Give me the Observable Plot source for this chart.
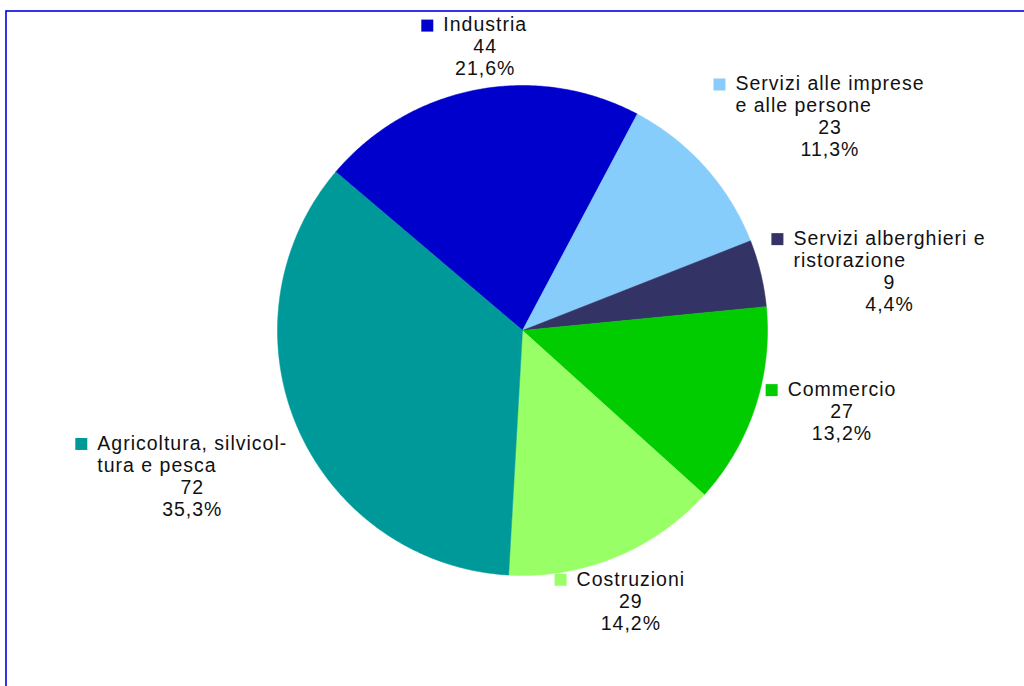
<!DOCTYPE html>
<html><head><meta charset="utf-8">
<script src="https://cdn.jsdelivr.net/npm/d3@7"></script>
<script src="https://cdn.jsdelivr.net/npm/@observablehq/plot@0.6"></script>
<style>html,body{margin:0;padding:0;background:#fff;} svg{display:block}</style>
</head><body><div id="chart"></div>
<script>
// ---- data ----
const categories = ["Industria", "Servizi alle imprese e alle persone", "Servizi alberghieri e ristorazione", "Commercio", "Costruzioni", "Agricoltura, silvicoltura e pesca"];
const labelLines = [["Industria"], ["Servizi alle imprese", "e alle persone"], ["Servizi alberghieri e", "ristorazione"], ["Commercio"], ["Costruzioni"], ["Agricoltura, silvicol-", "tura e pesca"]];
const values = [44, 23, 9, 27, 29, 72];
const palette = ["#0000cc", "#87cdfb", "#333366", "#00cc00", "#99ff66", "#009999"];

// ---- layout ----
const W = 1024, H = 686, cx = 522, cy = 330, R = 245;
const startDeg = -49.7;
const total = d3.sum(values);
const a0 = startDeg * Math.PI / 180;
const arcs = d3.pie().value(d => d).sort(null).startAngle(a0).endAngle(a0 + 2 * Math.PI)(values);

const slicePts = [];
arcs.forEach((a, i) => {
  slicePts.push({cat: categories[i], x: 0, y: 0});
  const n = Math.max(2, Math.ceil((a.endAngle - a.startAngle) / (Math.PI / 360)));
  for (let k = 0; k <= n; k++) {
    const t = a.startAngle + (a.endAngle - a.startAngle) * k / n;
    slicePts.push({cat: categories[i], x: Math.sin(t), y: -Math.cos(t)});
  }
});

const FS = 19.5, LS = 1.0, LH = 22, GAP = 22, SQ = 12, OFF = 11;
const ctx = document.createElement("canvas").getContext("2d");
ctx.font = FS + "px 'Liberation Sans'";
const tw = s => ctx.measureText(s).width + LS * s.length;
const ux = px => (px - cx) / R, uy = py => (py - cy) / R;

const nameRows = [], numRows = [], squares = [];
arcs.forEach((a, i) => {
  const mid = (a.startAngle + a.endAngle) / 2;
  const dx = Math.sin(mid), dy = -Math.cos(mid);
  const px = cx + (R + OFF) * dx, py = cy + (R + OFF) * dy;
  let deg = (90 - mid * 180 / Math.PI) % 360; if (deg < 0) deg += 360;
  let h, v;
  if (deg <= 22.5 || deg >= 337.5) { h = 1; v = 0; }
  else if (deg < 67.5) { h = 1; v = 1; }
  else if (deg < 112.5) { h = 0; v = 1; }
  else if (deg <= 157.5) { h = -1; v = 1; }
  else if (deg <= 202.5) { h = -1; v = 0; }
  else if (deg < 247.5) { h = -1; v = -1; }
  else if (deg < 292.5) { h = 0; v = -1; }
  else { h = 1; v = -1; }
  const names = labelLines[i];
  const pct = (values[i] / total * 100).toFixed(1).replace(".", ",") + "%";
  const nums = [String(values[i]), pct];
  const lines = [...names, ...nums];
  const textW = d3.max(lines, tw);
  const bw = GAP + textW, bh = lines.length * LH;
  const left = h === 1 ? px : h === -1 ? px - bw : px - bw / 2;
  const top = v === 1 ? py - bh : v === -1 ? py : py - bh / 2;
  names.forEach((s, j) => nameRows.push({x: ux(left + GAP), y: uy(top + LH * (j + 0.5) + 1), text: s}));
  nums.forEach((s, j) => numRows.push({x: ux(left + GAP + textW / 2), y: uy(top + LH * (names.length + j + 0.5) + 1), text: s}));
  squares.push({cat: categories[i], x: ux(left + SQ / 2), y: uy(top + LH / 2 + 1.5)});
});

const chart = Plot.plot({
  width: W, height: H,
  margin: 0,
  style: {fontFamily: "'Liberation Sans', Arial, sans-serif", fontSize: FS + "px", letterSpacing: LS + "px", background: "#fff", color: "#111"},
  x: {domain: [ux(0), ux(W)], range: [0, W], axis: null},
  y: {domain: [uy(0), uy(H)], range: [0, H], axis: null},
  color: {type: "ordinal", domain: categories, range: palette},
  marks: [
    Plot.frame({stroke: "#0000e6", strokeWidth: 1.6, insetLeft: 5.5, insetTop: 10.5, insetRight: -4, insetBottom: -4}),
    Plot.line(slicePts, {x: "x", y: "y", z: "cat", fill: "cat", stroke: "cat", strokeWidth: 0.5, curve: "linear-closed"}),
    Plot.dot(squares, {x: "x", y: "y", fill: "cat", symbol: "square", r: SQ / Math.sqrt(Math.PI)}),
    Plot.text(nameRows, {x: "x", y: "y", text: "text", textAnchor: "start", lineAnchor: "middle", fontSize: FS, fill: "#111"}),
    Plot.text(numRows, {x: "x", y: "y", text: "text", textAnchor: "middle", lineAnchor: "middle", fontSize: FS, fill: "#111"})
  ]
});
document.getElementById("chart").appendChild(chart);
</script>
</body></html>
